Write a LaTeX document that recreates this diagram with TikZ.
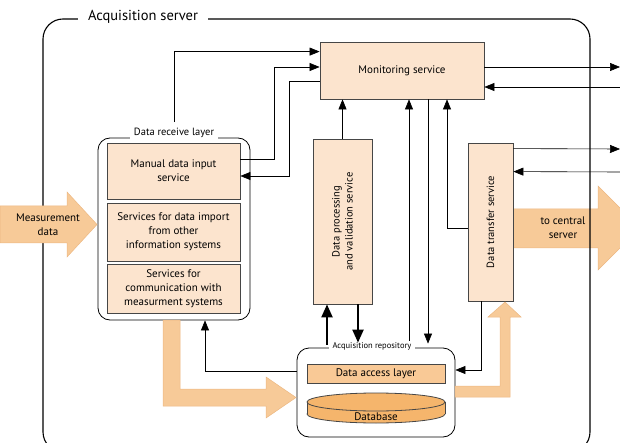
\documentclass[tikz,border=0pt]{standalone}
\usepackage{fontspec}
\setmainfont{PT Sans}
\usetikzlibrary{arrows.meta,positioning,calc}
\definecolor{boxfill}{RGB}{252,228,206}
\definecolor{flowfill}{RGB}{247,202,152}
\definecolor{flowedge}{RGB}{236,184,130}
\definecolor{dalfill}{RGB}{249,201,150}
\definecolor{dbfill}{RGB}{245,181,108}
\definecolor{boxedge}{RGB}{70,70,70}

\begin{document}
\begin{tikzpicture}[x=1pt,y=-1pt,
    svc/.style={draw=boxedge, line width=0.8pt, fill=boxfill, align=center, font=\fontsize{11}{14}\selectfont, inner sep=0pt},
    group/.style={draw=black, line width=0.8pt, rounded corners=12pt, inner sep=0pt},
    grouplbl/.style={fill=white, inner xsep=4pt, inner ysep=2pt},
    arr/.style={-{Triangle[length=10pt,width=8pt]}, line width=0.6pt},
    bigarr/.style={-{Triangle[length=13pt,width=11pt]}, line width=2.2pt},
    flow/.style={fill=flowfill, draw=flowedge, line width=0.5pt},
    flowtxt/.style={align=center, font=\fontsize{11}{14}\selectfont}]
    \useasboundingbox (0,0) rectangle (620,443);

    % big arrow out of the server, under the frame
    \fill[flow] (513,209) -- (598,209) -- (598,186) -- (640,228) -- (598,270) -- (598,248) -- (513,248) -- cycle;
    \node[flowtxt] (central) at (563,228) {to central\\server};

    \node[draw, line width=1.1pt, rounded corners=20pt, minimum width=547pt, minimum height=433pt] (server) at (316.5,235.5) {};
    \node[fill=white, inner xsep=10pt, font=\fontsize{14.5}{16}\selectfont] (title) at (143,17) {Acquisition server};

    % services
    \node[svc, minimum width=164pt, minimum height=57pt] (monitor) at (402,70.5) {Monitoring service};
    \node[svc, minimum width=59pt, minimum height=165pt] (proc) at (342.5,221.5) {};
    \node[rotate=90, align=center, font=\fontsize{10.5}{13}\selectfont] (proctxt) at (proc) {Data processing\\and validation service};
    \node[svc, minimum width=45pt, minimum height=158pt] (xfer) at (490.5,222) {};
    \node[rotate=90, font=\fontsize{10.5}{13}\selectfont] (xfertxt) at (xfer) {Data transfer service};

    % data receive layer
    \node[group, minimum width=152pt, minimum height=182pt] (rcv) at (174,229) {};
    \node[grouplbl, font=\fontsize{10.5}{12}\selectfont] (rcvlbl) at (174,133) {Data receive layer};
    \node[svc, minimum width=133pt, minimum height=56pt] (manual) at (173.5,171) {Manual data input\\service};
    \node[svc, minimum width=133pt, minimum height=58pt] (import) at (173.5,232) {Services for data import\\from other\\information systems};
    \node[svc, minimum width=133pt, minimum height=49pt] (comm) at (173.5,288.5) {Services for\\communication with\\measurment systems};

    % acquisition repository
    \node[group, minimum width=158pt, minimum height=89pt] (repo) at (376,392.5) {};
    \node[grouplbl, inner ysep=1pt, font=\fontsize{8.5}{10}\selectfont] (repolbl) at (372,346) {Acquisition repository};
    \node[draw=boxedge, line width=0.8pt, fill=dalfill, minimum width=138pt, minimum height=19pt, inner sep=0pt, font=\fontsize{11}{12}\selectfont] (dal) at (376,373.5) {Data access layer};
    \draw[draw=boxedge, fill=dbfill, line width=0.8pt] (376,414) ellipse [x radius=69pt, y radius=9pt];
    \fill[dbfill] (307,402) rectangle (445,414);
    \draw[boxedge, line width=0.8pt] (307,402) -- (307,414) (445,402) -- (445,414);
    \draw[draw=boxedge, fill=dbfill, line width=0.8pt] (376,402) ellipse [x radius=69pt, y radius=9pt];
    \node[font=\fontsize{11}{12}\selectfont] (db) at (376,417) {Database};

    % wide data flows
    \fill[flow] (0,206) -- (67,206) -- (67,192) -- (97,224.5) -- (67,257) -- (67,243) -- (0,243) -- cycle;
    \node[flowtxt] (meas) at (48,224.5) {Measurement\\data};
    \fill[flow] (163,320) -- (180,320) -- (180,389) -- (266,389) -- (266,377) -- (296,397.5) -- (266,418) -- (266,406) -- (163,406) -- cycle;
    \fill[flow] (455,386) -- (500,386) -- (500,317) -- (488,317) -- (505,302) -- (521,317) -- (510,317) -- (510,397) -- (455,397) -- cycle;

    % free ends on the right
    \coordinate (outmon) at (620,67);
    \coordinate (inmon) at (620,87);
    \coordinate (outxfer) at (620,149);
    \coordinate (inxfer) at (620,172);

    % control connections
    \draw[arr] ([yshift=4pt]rcvlbl.north) |- ([yshift=-10pt]monitor.north west);
    \draw[arr] ([yshift=12pt]manual.east) -- ++(34,0) |- ([yshift=3.5pt]monitor.west);
    \draw[arr] ([yshift=-10.5pt]monitor.west) -- ++(-30,0) |- ([yshift=-5pt]manual.east);
    \draw[arr] ([yshift=3.5pt]monitor.east) -- (outmon);
    \draw[arr] (inmon) -- ([yshift=-16.5pt]monitor.east);
    \draw[arr] (proc.north) -- (proc.north |- monitor.south);
    \draw[arr] ([xshift=37pt]repolbl.north) -- ([xshift=7pt]monitor.south);
    \draw[arr] ([xshift=26pt]monitor.south) -- ([xshift=52pt,yshift=4pt]repo.north);
    \draw[arr] ([yshift=-6pt]xfer.west) -| ([xshift=45pt]monitor.south);
    \draw[arr] ([yshift=-6pt]xfer.north east) -- (outxfer);
    \draw[arr] (inxfer) -- ([yshift=-29pt]xfer.north east);
    \draw[arr] ([xshift=-9pt]xfer.south) |- ([yshift=22.5pt]repo.east);
    \draw[arr] ([yshift=21.5pt]repo.west) -| ([xshift=31pt]rcv.south);
    \draw[bigarr] ([xshift=-49pt,yshift=3pt]repo.north) -- ([xshift=-15.5pt]proc.south);
    \draw[bigarr] ([xshift=15.5pt]proc.south) -- ([xshift=-18pt,yshift=5pt]repo.north);
\end{tikzpicture}
\end{document}
